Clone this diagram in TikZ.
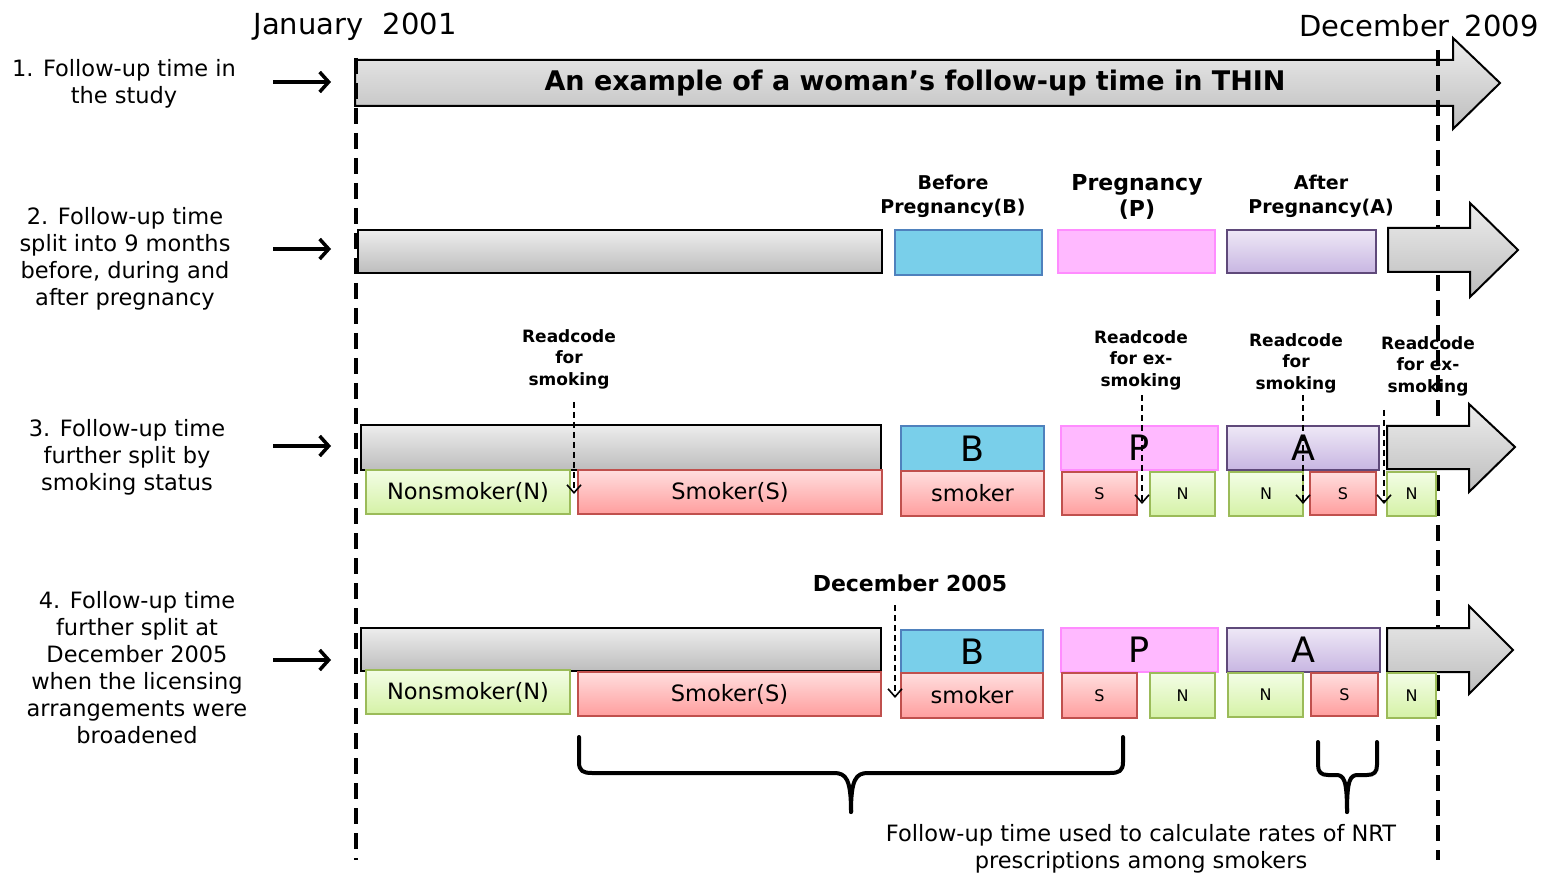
\documentclass[tikz,border=0pt]{standalone}
\usepackage{fontspec}
\setmainfont{DejaVu Sans}
\usetikzlibrary{arrows.meta}
\definecolor{gtop}{HTML}{EDEDED}
\definecolor{gbot}{HTML}{BDBDBD}
\definecolor{bfill}{HTML}{79CFEA}
\definecolor{bdraw}{HTML}{4F81BD}
\definecolor{pfill}{HTML}{FFB9FF}
\definecolor{pdraw}{HTML}{FF8CFF}
\definecolor{atop}{HTML}{EEE8F6}
\definecolor{abot}{HTML}{C8B6E2}
\definecolor{adraw}{HTML}{5F497A}
\definecolor{ntop}{HTML}{F3FDE6}
\definecolor{nbot}{HTML}{D5F2A6}
\definecolor{ndraw}{HTML}{9BBB59}
\definecolor{stop}{HTML}{FFDEDE}
\definecolor{sbot}{HTML}{FF9E9E}
\definecolor{sdraw}{HTML}{C0504D}
\newcommand\bx[7]{\node[#6, anchor=north west, minimum width={#4pt-#2pt}, minimum height={#5pt-#3pt}] (#1) at (#2,#3) {#7};}
\tikzset{
  every node/.style={inner sep=0pt, outer sep=0pt},
  lbl/.style={align=center, font=\fontsize{22.5}{27}\selectfont},
  hdr/.style={font=\fontsize{29}{34}\selectfont},
  rc/.style={align=center, font=\bfseries\fontsize{17}{21.5}\selectfont},
  phase/.style={align=center, font=\bfseries\fontsize{19}{24}\selectfont},
  bar/.style={draw=black, line width=2pt, top color=gtop, bottom color=gbot},
  bbox/.style={draw=bdraw, line width=2.2pt, fill=bfill},
  pbox/.style={draw=pdraw, line width=2.2pt, fill=pfill},
  abox/.style={draw=adraw, line width=2.2pt, top color=atop, bottom color=abot},
  nbox/.style={draw=ndraw, line width=2.2pt, top color=ntop, bottom color=nbot},
  sbox/.style={draw=sdraw, line width=2.2pt, top color=stop, bottom color=sbot},
  big/.style={font=\fontsize{35}{35}\selectfont},
  mid/.style={font=\fontsize{22.5}{27}\selectfont},
  small/.style={font=\fontsize{16}{16}\selectfont},
  blockarrow/.style={draw=black, line width=2pt, top color=gtop, bottom color=gbot},
  vdash/.style={line width=4pt, dash pattern=on 16pt off 9pt},
  rcarrow/.style={line width=1.6pt, dash pattern=on 6pt off 4pt, -{Straight Barb[length=8pt,width=14pt]}},
  rowarrow/.style={line width=3.5pt, -{Straight Barb[length=9pt,width=20pt]}},
  brace/.style={line width=4pt, line cap=round, line join=round},
}
\begin{document}
\begin{tikzpicture}[x=1pt, y=-1pt]
\useasboundingbox (0,0) rectangle (1548,874);

% headers
\node[hdr] (jan) at (355,27) {January\hspace{0.35em} 2001};
\node[hdr] (dec) at (1419,26) {December\hspace{0.2em} 2009};

% row 1 arrow
\draw[blockarrow] (355,60) -- (1453,60) -- (1453,38) -- (1500,83) -- (1453,129) -- (1453,106) -- (355,106) -- cycle;
\node[font=\bfseries\fontsize{27}{30}\selectfont] (title) at (915,83) {An example of a woman’s follow-up time in THIN};

% vertical dashed lines
\coordinate (l1) at (356,58);
\coordinate (l2) at (356,860);
\coordinate (r1) at (1438,50);
\coordinate (r2) at (1438,860);
\draw[vdash] (l1) -- (l2);
\draw[vdash] (r1) -- (r2);

% left labels and arrows
\node[lbl] (t1) at (124,83.5) {1. Follow-up time in\\the study};
\node[lbl] (t2) at (125,258.5) {2. Follow-up time\\split into 9 months\\before, during and\\after pregnancy};
\node[lbl] (t3) at (127,457) {3. Follow-up time\\further split by\\smoking status};
\node[lbl] (t4) at (137,667.5) {4. Follow-up time\\further split at\\December 2005\\when the licensing\\arrangements were\\broadened};
\coordinate (a1s) at (273,82); \coordinate (a1e) at (331,82);
\coordinate (a2s) at (273,249); \coordinate (a2e) at (331,249);
\coordinate (a3s) at (273,446); \coordinate (a3e) at (331,446);
\coordinate (a4s) at (273,660); \coordinate (a4e) at (331,660);
\draw[rowarrow] (a1s) -- (a1e);
\draw[rowarrow] (a2s) -- (a2e);
\draw[rowarrow] (a3s) -- (a3e);
\draw[rowarrow] (a4s) -- (a4e);

% row 2
\bx{g2}{358}{230}{882}{273}{bar}{}
\bx{b2}{895}{230}{1042}{275}{bbox}{}
\bx{p2}{1058}{230}{1215}{273}{pbox}{}
\bx{a2}{1227}{230}{1376}{273}{abox}{}
\draw[blockarrow] (1388,228) -- (1470,228) -- (1470,203) -- (1518,250) -- (1470,297) -- (1470,272) -- (1388,272) -- cycle;
\node[phase] (bl) at (953,196) {Before\\Pregnancy(B)};
\node[align=center, font=\bfseries\fontsize{22}{26}\selectfont] (pl) at (1137,197) {Pregnancy\\(P)};
\node[phase] (al) at (1321,196) {After\\Pregnancy(A)};

% row 3
\bx{g3}{361}{425}{881}{470}{bar}{}
\bx{n3}{366}{470}{570}{514}{nbox,mid}{Nonsmoker(N)}
\bx{s3}{578}{470}{882}{514}{sbox,mid}{Smoker(S)}
\bx{b3}{901}{426}{1044}{471}{bbox,big}{B}
\bx{sm3}{901}{471}{1044}{516}{sbox,mid}{smoker}
\bx{p3}{1061}{426}{1218}{470}{pbox,big}{P}
\bx{ps3}{1062}{472}{1137}{515}{sbox,small}{S}
\bx{pn3}{1150}{472}{1215}{516}{nbox,small}{N}
\bx{a3}{1227}{426}{1379}{470}{abox,big}{A}
\bx{an3}{1229}{472}{1303}{516}{nbox,small}{N}
\bx{as3}{1310}{472}{1376}{515}{sbox,small}{S}
\draw[blockarrow] (1387,426) -- (1469,426) -- (1469,404) -- (1515,447) -- (1469,492) -- (1469,469) -- (1387,469) -- cycle;
\bx{en3}{1387}{472}{1436}{516}{nbox,small}{N}

\node[rc] (rc1) at (569,359) {Readcode\\for\\smoking};
\node[rc] (rc2) at (1141,360) {Readcode\\for ex-\\smoking};
\node[rc] (rc3) at (1296,363) {Readcode\\for\\smoking};
\node[rc] (rc4) at (1428,366) {Readcode\\for ex-\\smoking};
\coordinate (c1s) at (574,402); \coordinate (c1e) at (574,494);
\coordinate (c2s) at (1142,395); \coordinate (c2e) at (1142,504);
\coordinate (c3s) at (1303,395); \coordinate (c3e) at (1303,504);
\coordinate (c4s) at (1384,410); \coordinate (c4e) at (1384,504);
\draw[rcarrow] (c1s) -- (c1e);
\draw[rcarrow] (c2s) -- (c2e);
\draw[rcarrow] (c3s) -- (c3e);
\draw[rcarrow] (c4s) -- (c4e);

% row 4
\bx{g4}{361}{628}{881}{671}{bar}{}
\bx{n4}{366}{670}{570}{714}{nbox,mid}{Nonsmoker(N)}
\bx{s4}{578}{672}{881}{716}{sbox,mid}{Smoker(S)}
\bx{b4}{901}{630}{1043}{673}{bbox,big}{B}
\bx{sm4}{901}{673}{1043}{718}{sbox,mid}{smoker}
\bx{p4}{1061}{628}{1218}{672}{pbox,big}{P}
\bx{ps4}{1062}{673}{1137}{718}{sbox,small}{S}
\bx{pn4}{1150}{673}{1215}{718}{nbox,small}{N}
\bx{a4}{1227}{628}{1380}{672}{abox,big}{A}
\bx{an4}{1228}{673}{1303}{717}{nbox,small}{N}
\bx{as4}{1311}{673}{1378}{716}{sbox,small}{S}
\draw[blockarrow] (1387,628) -- (1469,628) -- (1469,606) -- (1513,650) -- (1469,694) -- (1469,672) -- (1387,672) -- cycle;
\bx{en4}{1387}{673}{1436}{718}{nbox,small}{N}

\node[font=\bfseries\fontsize{22}{26}\selectfont] (d05) at (910,583) {December 2005};
\coordinate (d5s) at (895,605); \coordinate (d5e) at (895,698);
\draw[rcarrow] (d5s) -- (d5e);

% braces
\draw[brace] (579,737) -- (579,762) .. controls (579,771) and (583,773) .. (592,773) -- (834,773) .. controls (846,773) and (851,779) .. (851,812);
\draw[brace] (1123,737) -- (1123,762) .. controls (1123,771) and (1119,773) .. (1110,773) -- (868,773) .. controls (856,773) and (851,779) .. (851,812);
\draw[brace] (1318,742) -- (1318,765) .. controls (1318,772) and (1321,775) .. (1328,775) -- (1336,775) .. controls (1344,775) and (1347,780) .. (1347,812);
\draw[brace] (1377,742) -- (1377,765) .. controls (1377,772) and (1374,775) .. (1367,775) -- (1358,775) .. controls (1350,775) and (1347,780) .. (1347,812);

\node[lbl] (foot) at (1141,849) {Follow-up time used to calculate rates of NRT\\prescriptions among smokers};
\end{tikzpicture}
\end{document}
